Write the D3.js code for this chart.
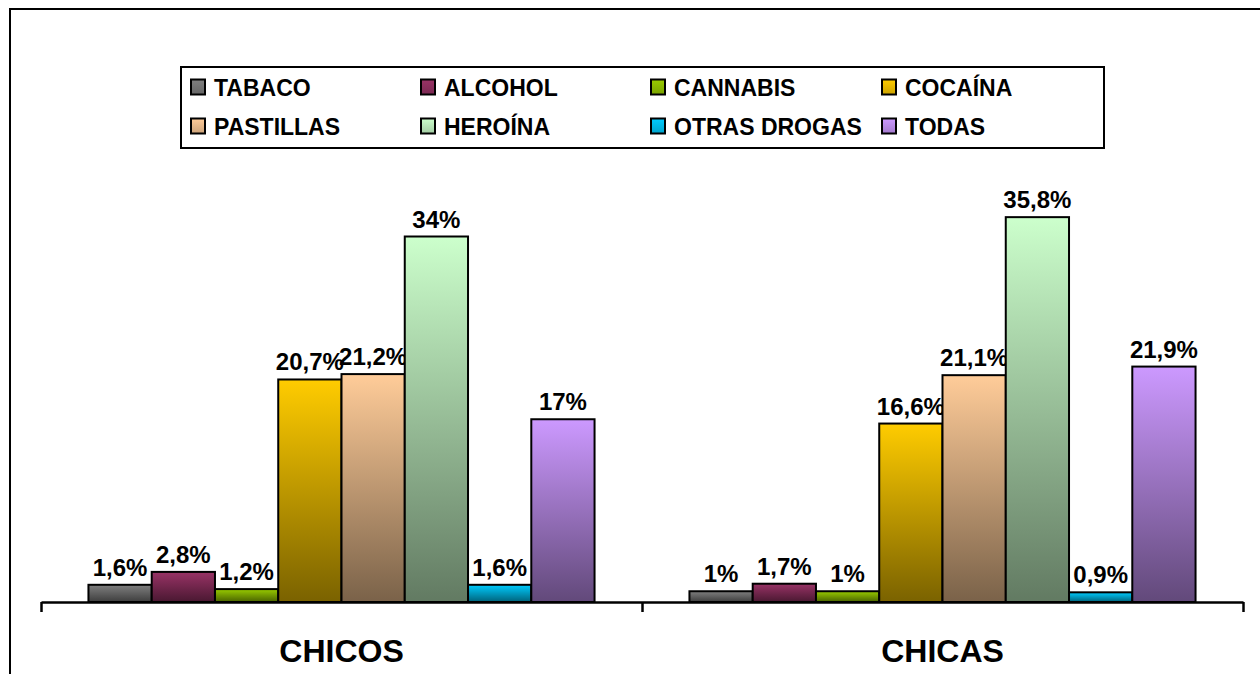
<!DOCTYPE html>
<html>
<head>
<meta charset="utf-8">
<script src="https://cdn.jsdelivr.net/npm/d3@7"></script>
<style>
  html, body { margin: 0; padding: 0; background: #fff; }
  svg { display: block; font-family: "Liberation Sans", Arial, sans-serif; }
</style>
</head>
<body>
<div id="chart"></div>
<script>
// data
const groups = ['CHICOS', 'CHICAS'];
const series = ['TABACO', 'ALCOHOL', 'CANNABIS', 'COCAÍNA', 'PASTILLAS', 'HEROÍNA', 'OTRAS DROGAS', 'TODAS'];
const chicos = [1.6, 2.8, 1.2, 20.7, 21.2, 34, 1.6, 17];
const chicas = [1, 1.7, 1, 16.6, 21.1, 35.8, 0.9, 21.9];
const seriesColors = ['#808080', '#993366', '#99cc00', '#ffcc00', '#ffcc99', '#ccffcc', '#00ccff', '#cc99ff'];

const values = { CHICOS: chicos, CHICAS: chicas };

const width = 1260, height = 674;
const margin = { left: 41, right: 17, bottom: 72 };
const baseY = height - margin.bottom; // 602

const svg = d3.select('#chart').append('svg')
  .attr('width', width)
  .attr('height', height);

// outer frame (runs off the right and bottom edges)
svg.append('rect')
  .attr('x', 10).attr('y', 9)
  .attr('width', width + 20).attr('height', height + 20)
  .attr('fill', '#fff')
  .attr('stroke', '#000')
  .attr('stroke-width', 2);

// gradients: colour at top, darker at the bottom
const defs = svg.append('defs');
function addGradient(id, color, k) {
  const c = d3.color(color);
  const dark = d3.rgb(c.r * k, c.g * k, c.b * k);
  const g = defs.append('linearGradient')
    .attr('id', id)
    .attr('x1', 0).attr('y1', 0).attr('x2', 0).attr('y2', 1);
  g.append('stop').attr('offset', '0%').attr('stop-color', c.formatHex());
  g.append('stop').attr('offset', '100%').attr('stop-color', dark.formatHex());
}
series.forEach((s, i) => {
  addGradient('grad' + i, seriesColors[i], 0.48);
  addGradient('lgrad' + i, seriesColors[i], 0.8);
});

// scales
const x0 = d3.scaleBand()
  .domain(groups)
  .range([margin.left, width - margin.right])
  .padding(0);

const x1 = d3.scaleBand()
  .domain(series)
  .range([0, x0.bandwidth()])
  .paddingInner(0)
  .paddingOuter(0.75);

const y = d3.scaleLinear()
  .domain([0, 40])
  .range([baseY, baseY - 430]);

// bars
const barGroups = svg.selectAll('.bar-group')
  .data(groups)
  .enter().append('g')
  .attr('class', 'bar-group')
  .attr('transform', d => `translate(${x0(d)},0)`);

const cells = barGroups.selectAll('.cell')
  .data(g => series.map((s, i) => ({ key: s, idx: i, value: values[g][i] })))
  .enter().append('g')
  .attr('class', 'cell');

cells.append('rect')
  .attr('x', d => x1(d.key))
  .attr('y', d => y(d.value))
  .attr('width', x1.bandwidth())
  .attr('height', d => baseY - y(d.value))
  .attr('fill', d => `url(#grad${d.idx})`)
  .attr('stroke', '#000')
  .attr('stroke-width', 2);

const fmt = v => String(v).replace('.', ',') + '%';

cells.append('text')
  .attr('x', d => x1(d.key) + x1.bandwidth() / 2)
  .attr('y', d => y(d.value) - 9)
  .attr('text-anchor', 'middle')
  .style('font-size', '24px')
  .style('font-weight', 'bold')
  .attr('fill', '#000')
  .text(d => fmt(d.value));

// axis line with ticks at group boundaries
const edge = d3.scaleLinear().domain([0, groups.length]).range(x0.range());
svg.append('g')
  .attr('class', 'x-axis')
  .attr('transform', `translate(0,${baseY})`)
  .call(d3.axisBottom(edge).ticks(groups.length).tickSizeInner(10).tickSizeOuter(0).tickFormat(''))
  .call(g => g.selectAll('path, line').attr('stroke', '#000').attr('stroke-width', 2.5));

// category labels
svg.append('g')
  .attr('class', 'x-labels')
  .attr('transform', `translate(0,${baseY})`)
  .call(d3.axisBottom(x0).tickSize(0).tickPadding(0))
  .call(g => g.select('.domain').remove())
  .selectAll('text')
  .attr('dy', null)
  .attr('y', 60)
  .style('font-size', '32px')
  .style('font-weight', 'bold')
  .style('font-family', '"Liberation Sans", Arial, sans-serif')
  .attr('fill', '#000');

// legend
const legend = svg.append('g')
  .attr('class', 'legend')
  .attr('transform', 'translate(181,67)');

legend.append('rect')
  .attr('width', 923)
  .attr('height', 81)
  .attr('fill', '#fff')
  .attr('stroke', '#000')
  .attr('stroke-width', 2);

const colX = [9, 239, 469, 700];
const rowY = [20, 59];

const items = legend.selectAll('.legend-item')
  .data(series)
  .enter().append('g')
  .attr('class', 'legend-item')
  .attr('transform', (d, i) => `translate(${colX[i % 4]},${rowY[Math.floor(i / 4)]})`);

items.append('rect')
  .attr('x', 1).attr('y', -7.5)
  .attr('width', 14).attr('height', 15)
  .attr('fill', (d, i) => `url(#lgrad${i})`)
  .attr('stroke', '#000')
  .attr('stroke-width', 2);

items.append('text')
  .attr('x', 24)
  .attr('y', 8.5)
  .style('font-size', '23px')
  .style('font-weight', 'bold')
  .attr('fill', '#000')
  .text(d => d);
</script>
</body>
</html>
